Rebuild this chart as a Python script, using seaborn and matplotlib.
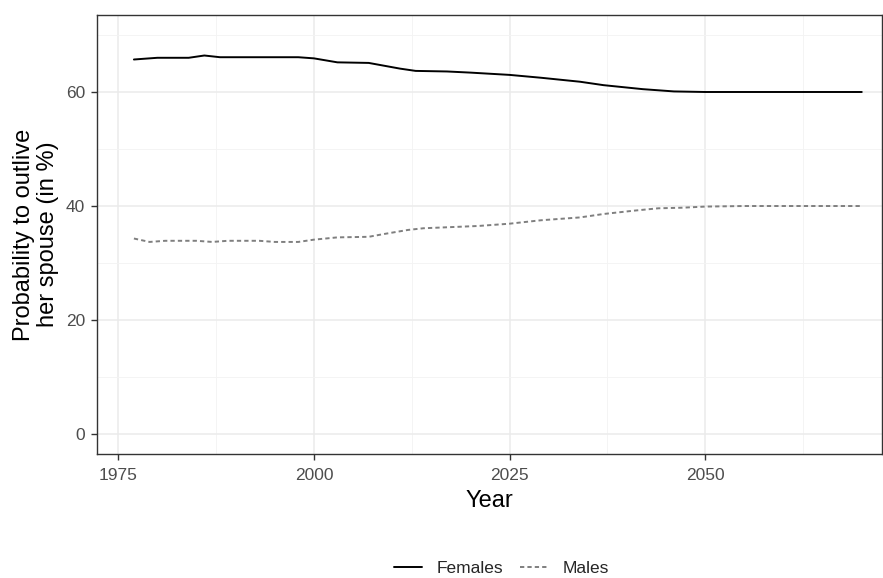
import numpy as np
import pandas as pd
import matplotlib.pyplot as plt
import seaborn as sns
from matplotlib.ticker import MultipleLocator
from matplotlib.lines import Line2D

# Values
female_years = [1977, 1980, 1984, 1986, 1988, 1998, 2000, 2003, 2007, 2011, 2013,
                2017, 2020, 2025, 2029, 2034, 2037, 2042, 2046, 2050, 2070]
female_pct = [65.7, 66.0, 66.0, 66.4, 66.1, 66.1, 65.9, 65.2, 65.1, 64.1, 63.7,
              63.6, 63.4, 63.0, 62.5, 61.8, 61.2, 60.5, 60.1, 60.0, 60.0]

male_years = [1977, 1979, 1981, 1985, 1987, 1989, 1993, 1995, 1998, 2000, 2003,
              2007, 2009, 2012, 2014, 2021, 2025, 2029, 2034, 2037, 2041, 2044,
              2047, 2050, 2055, 2070]
male_pct = [34.3, 33.7, 33.9, 33.9, 33.7, 33.9, 33.9, 33.7, 33.7, 34.1, 34.5,
            34.6, 35.1, 35.8, 36.1, 36.5, 36.9, 37.5, 38.0, 38.6, 39.2, 39.6,
            39.7, 39.9, 40.0, 40.0]

df = pd.concat([
    pd.DataFrame({"Year": female_years, "pct": female_pct, "sex": "Females"}),
    pd.DataFrame({"Year": male_years, "pct": male_pct, "sex": "Males"}),
])

sns.set_theme(style="white")
plt.rcParams["font.family"] = ["Liberation Sans", "DejaVu Sans"]

fig = plt.figure(figsize=(8.83, 5.78), dpi=100)
ax = fig.add_axes([0.110, 0.2145, 0.889, 0.7595])

male_dash = (2.2, 1.6)
sns.lineplot(
    data=df, x="Year", y="pct", hue="sex", style="sex",
    palette={"Females": "black", "Males": "#7f7f7f"},
    dashes={"Females": "", "Males": male_dash},
    linewidth=1.4, ax=ax, legend=False,
)

# ggplot-like panel: grey grid, dark border
ax.set_xlim(1972.3, 2072.6)
ax.set_ylim(-3.5, 73.5)
ax.xaxis.set_major_locator(MultipleLocator(25))
ax.xaxis.set_minor_locator(MultipleLocator(12.5))
ax.yaxis.set_major_locator(MultipleLocator(20))
ax.yaxis.set_minor_locator(MultipleLocator(10))
ax.grid(which="major", color="#ebebeb", linewidth=1.1)
ax.grid(which="minor", color="#f3f3f3", linewidth=0.6)
ax.set_axisbelow(True)
for s in ax.spines.values():
    s.set_color("#333333")
    s.set_linewidth(1.0)
ax.tick_params(which="major", length=4, width=1.0, color="#333333",
               labelsize=12.5, labelcolor="#4d4d4d", bottom=True, left=True)
ax.tick_params(axis="x", pad=6)
ax.tick_params(axis="y", pad=4.5)
ax.tick_params(which="minor", length=0)

ax.set_xlabel("Year", fontsize=17, color="black", labelpad=5)
ax.set_ylabel("Probability to outlive\nher spouse (in %)", fontsize=17,
              color="black", labelpad=5, linespacing=1.12)

# legend at the bottom, centred
handles = [
    Line2D([], [], color="black", linewidth=1.4),
    Line2D([], [], color="#7f7f7f", linewidth=1.4, dashes=male_dash),
]
fig.legend(handles, ["Females", "Males"], loc="center",
           bbox_to_anchor=(0.568, 0.017), ncol=2, frameon=False,
           fontsize=12.5, handlelength=1.6, handletextpad=0.85,
           columnspacing=1.0)

fig.savefig("out.png", dpi=100)
